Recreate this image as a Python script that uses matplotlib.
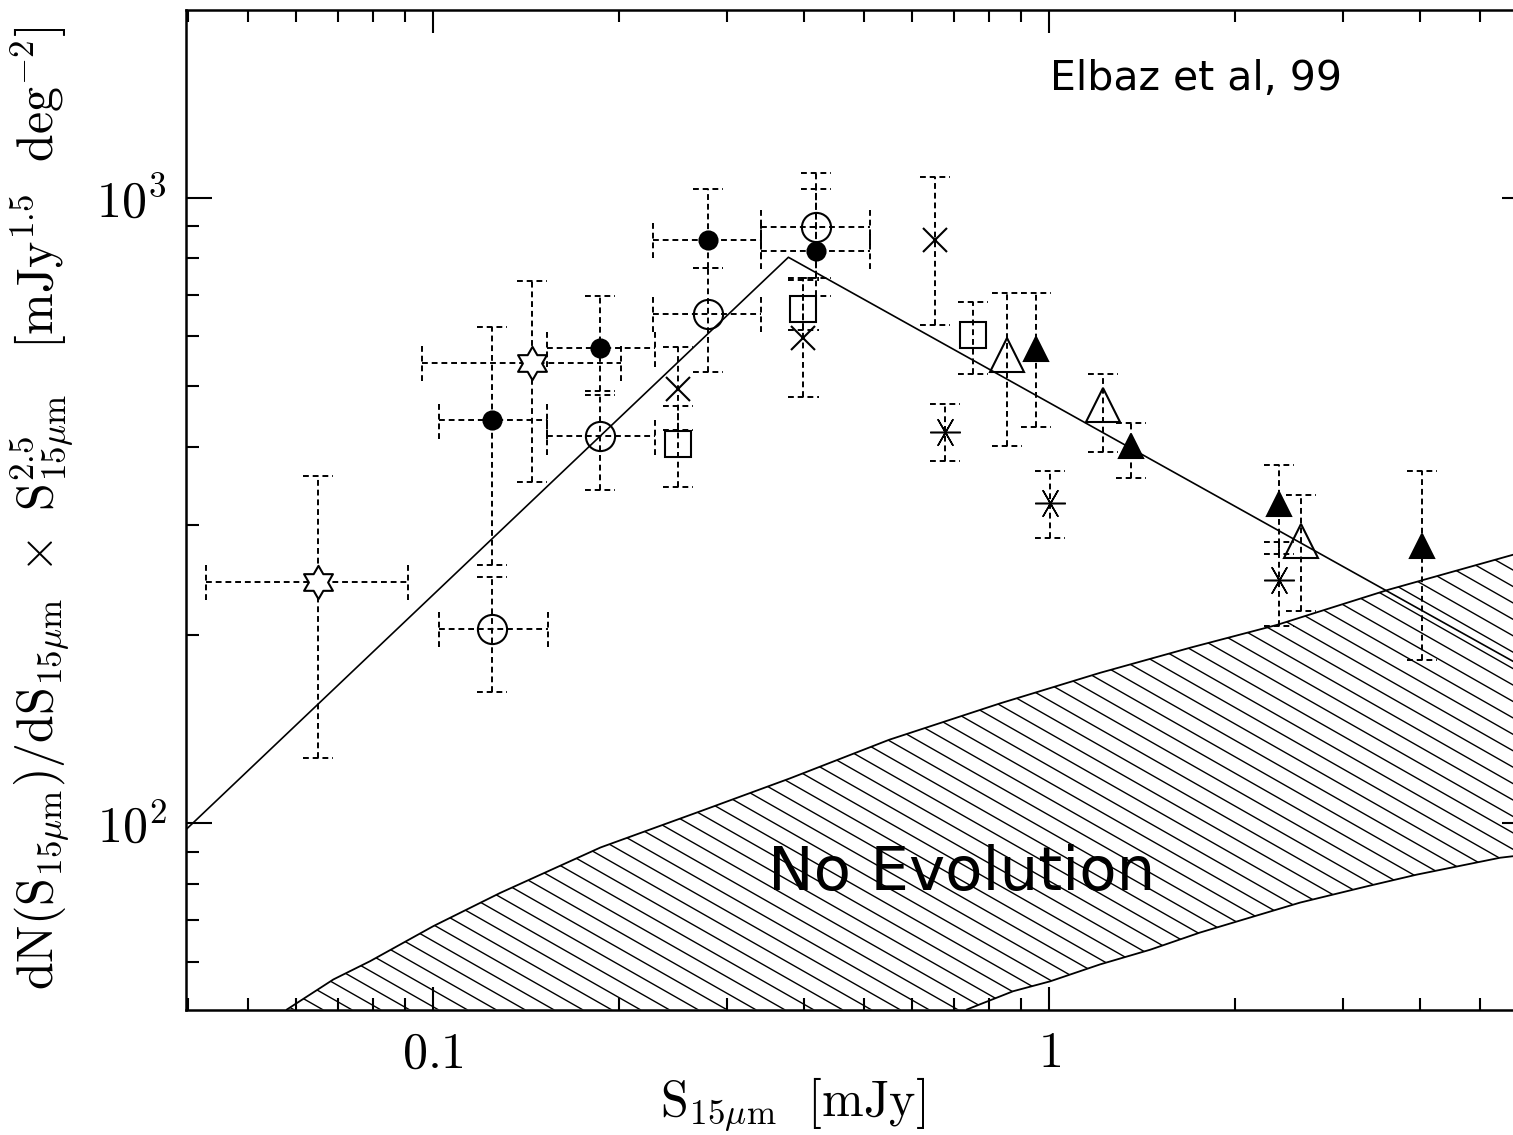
import numpy as np
import matplotlib
matplotlib.use("Agg")
import matplotlib.pyplot as plt
from matplotlib.path import Path
from matplotlib.collections import LineCollection

plt.rcParams['mathtext.fontset'] = 'cm'
plt.rcParams['font.family'] = ['DejaVu Sans']

# ISOCAM 15 micron counts, Euclidean-normalised  (S in mJy, counts in mJy^1.5 deg^-2)
# open stars
star_x = [0.0650, 0.1449]
star_y = [243.3, 543.9]
star_xlo = [0.0428, 0.0961]
star_xhi = [0.0910, 0.2019]
star_ylo = [127.2, 351.2]
star_yhi = [359.3, 736.9]

# filled circles
fcirc_x = [0.1245, 0.1867, 0.2798, 0.4184]
fcirc_y = [440.4, 574.0, 855.7, 823.0]
fcirc_xlo = [0.1023, 0.1530, 0.2278, 0.3407]
fcirc_xhi = [0.1530, 0.2293, 0.3407, 0.5122]
fcirc_ylo = [259.0, 491.6, 772.6, 743.0]
fcirc_yhi = [621.6, 697.4, 1031.0, 1031.0]

# open circles
ocirc_x = [0.1245, 0.1867, 0.2798, 0.4184]
ocirc_y = [204.6, 415.2, 651.0, 898.8]
ocirc_xlo = [0.1021, 0.1530, 0.2278, 0.3407]
ocirc_xhi = [0.1536, 0.2293, 0.3407, 0.5122]
ocirc_ylo = [162.1, 340.4, 527.2, 697.4]
ocirc_yhi = [247.2, 484.0, 772.6, 1096.0]

# crosses
cross_x = [0.2502, 0.3993, 0.6518]
cross_y = [494.1, 596.4, 855.7]
cross_ylo = [425.6, 479.8, 626.0]
cross_yhi = [578.0, 738.8, 1080.0]

# open squares
sq_x = [0.2502, 0.3993, 0.7524]
sq_y = [404.2, 663.2, 602.2]
sq_ylo = [345.4, 614.8, 523.0]
sq_yhi = [464.8, 743.0, 682.2]

# open triangles
otri_x = [0.8554, 1.2252, 2.566]
otri_y = [560.8, 467.0, 282.8]
otri_ylo = [401.3, 391.5, 218.1]
otri_yhi = [703.5, 523.0, 334.2]

# filled triangles
ftri_x = [0.9533, 1.356, 2.362, 4.027]
ftri_y = [573.4, 400.2, 323.9, 277.0]
ftri_ylo = [430.6, 356.3, 269.4, 182.6]
ftri_yhi = [703.5, 437.0, 373.2, 365.3]

# asterisks
ast_x = [0.6767, 1.002, 2.362]
ast_y = [422.9, 325.0, 245.1]
ast_ylo = [379.7, 286.3, 206.4]
ast_yhi = [468.3, 365.3, 282.1]

# evolving model (broken power law)
model_x = [0.0397, 0.3774, 5.665]
model_y = [97.7, 803.0, 181.5]

# no-evolution band
noev_up_x = [0.0579, 0.0689, 0.0790, 0.1001, 0.1285, 0.1870, 0.2713, 0.3797, 0.5500, 0.8328, 1.210, 1.700, 2.342, 3.554, 5.665]
noev_up_y = [50.4, 56.3, 60.2, 68.5, 77.4, 91.5, 104.5, 118.0, 136.0, 155.5, 174.0, 191.0, 207.5, 236.2, 268.7]
noev_lo_x = [0.7355, 0.8740, 1.0037, 1.210, 1.459, 1.758, 2.120, 2.556, 3.280, 3.954, 5.396, 5.665]
noev_lo_y = [50.4, 53.9, 55.9, 59.5, 62.8, 66.9, 70.7, 74.7, 79.3, 82.8, 88.1, 88.6]

CAPX = 10 ** 0.0244
CAPY = 10 ** 0.029
dash = dict(color='black', lw=1.4, linestyle=(0, (3.0, 2.0)), zorder=3)


def error_bars(ax, x, y, ylo, yhi, xlo=None, xhi=None):
    for i in range(len(x)):
        ax.plot([x[i], x[i]], [ylo[i], yhi[i]], **dash)
        for yc in (ylo[i], yhi[i]):
            ax.plot([x[i] / CAPX, x[i] * CAPX], [yc, yc], **dash)
        if xlo is not None:
            ax.plot([xlo[i], xhi[i]], [y[i], y[i]], **dash)
            for xc in (xlo[i], xhi[i]):
                ax.plot([xc, xc], [y[i] / CAPY, y[i] * CAPY], **dash)


def hexagram():
    ang = np.pi / 2 + np.arange(12) * np.pi / 6
    r = np.where(np.arange(12) % 2 == 0, 1.0, 0.577)
    verts = np.column_stack([r * np.cos(ang), r * np.sin(ang)])
    verts = np.vstack([verts, verts[:1]])
    codes = [Path.MOVETO] + [Path.LINETO] * 11 + [Path.CLOSEPOLY]
    return Path(verts, codes)


fig = plt.figure(figsize=(15.13, 11.35), dpi=100)
ax = fig.add_axes([0.1229, 0.1101, 0.8873, 0.8811])
ax.set_xscale('log')
ax.set_yscale('log')
ax.set_xlim(0.0397, 6.0)
ax.set_ylim(50.3, 1995)

# hatched no-evolution band
band_x = noev_up_x + noev_lo_x[::-1]
band_y = noev_up_y + noev_lo_y[::-1]
band = ax.fill(band_x, band_y, facecolor='none', edgecolor='none', zorder=1)[0]
ax.plot(noev_up_x, noev_up_y, color='black', lw=1.3, zorder=2)
ax.plot(noev_lo_x, noev_lo_y, color='black', lw=1.3, zorder=2)

slope = 0.764
step = 0.0215
segs = [[(c, 1.0), (c + 1.0 / slope, 0.0)] for c in np.arange(-1.4, 1.05, step)]
hatch = LineCollection(segs, colors='black', linewidths=1.0, transform=ax.transAxes, zorder=1)
ax.add_collection(hatch)
hatch.set_clip_path(band)

ax.plot(model_x, model_y, color='black', lw=1.2, zorder=2)

error_bars(ax, star_x, star_y, star_ylo, star_yhi, star_xlo, star_xhi)
error_bars(ax, fcirc_x, fcirc_y, fcirc_ylo, fcirc_yhi, fcirc_xlo, fcirc_xhi)
error_bars(ax, ocirc_x, ocirc_y, ocirc_ylo, ocirc_yhi, ocirc_xlo, ocirc_xhi)
error_bars(ax, cross_x, cross_y, cross_ylo, cross_yhi)
error_bars(ax, sq_x, sq_y, sq_ylo, sq_yhi)
error_bars(ax, otri_x, otri_y, otri_ylo, otri_yhi)
error_bars(ax, ftri_x, ftri_y, ftri_ylo, ftri_yhi)
error_bars(ax, ast_x, ast_y, ast_ylo, ast_yhi)

mk = dict(linestyle='none', color='black', mew=1.5, zorder=4)
ax.plot(star_x, star_y, marker=hexagram(), ms=24, mfc='white', **mk)
ax.plot(fcirc_x, fcirc_y, marker='o', ms=13, mfc='black', **mk)
ax.plot(ocirc_x, ocirc_y, marker='o', ms=21, mfc='none', **mk)
ax.plot(cross_x, cross_y, marker='x', ms=17, **mk)
ax.plot(sq_x, sq_y, marker='s', ms=19, mfc='none', **mk)
ax.plot(otri_x, otri_y, marker='^', ms=24, mfc='none', **mk)
ax.plot(ftri_x, ftri_y, marker='^', ms=17, mfc='black', **mk)
ax.plot(ast_x, ast_y, marker=(6, 2, 90), ms=22, linestyle='none', color='black', mew=1.1, zorder=4)

# axes frame and ticks
for sp in ax.spines.values():
    sp.set_linewidth(1.8)
ax.tick_params(which='both', direction='in', top=True, right=True, width=1.5, colors='black')
ax.tick_params(axis='x', which='major', length=16.5, pad=14)
ax.tick_params(axis='x', which='minor', length=8.5)
ax.tick_params(axis='y', which='major', length=18.7, pad=14)
ax.tick_params(axis='y', which='minor', length=9.4)
ax.set_xticks([0.1, 1], labels=[r'$0.1$', r'$1$'])
ax.set_yticks([100, 1000], labels=[r'$10^2$', r'$10^3$'])
ax.tick_params(labelsize=36)

ax.set_xlabel(r'$\mathrm{S}_{15\mu\mathrm{m}}\ \ [\mathrm{mJy}]$', fontsize=36)
ax.xaxis.set_label_coords(0.452, -0.065)
ax.set_ylabel(r'$\mathrm{dN}(\mathrm{S}_{15\mu\mathrm{m}})/\mathrm{dS}_{15\mu\mathrm{m}}\ \times\ '
              r'\mathrm{S}^{2.5}_{15\mu\mathrm{m}}\quad[\mathrm{mJy}^{1.5}\ \ \mathrm{deg}^{-2}]$',
              fontsize=36)
ax.yaxis.set_label_coords(-0.083, 0.502)

ax.text(1.004, 1486, 'Elbaz et al, 99', fontsize=29.5, ha='left', va='baseline')
ax.text(0.35, 78.3, 'No Evolution', fontsize=44, ha='left', va='baseline', zorder=5)

fig.savefig('out.png', dpi=100)
